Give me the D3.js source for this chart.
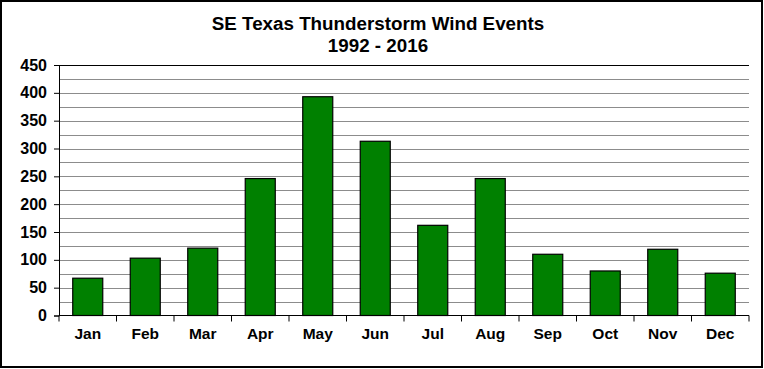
<!DOCTYPE html>
<html><head><meta charset="utf-8">
<script src="https://cdn.jsdelivr.net/npm/d3@7"></script>
<style>body{margin:0;background:#fff}svg{display:block;font-family:"Liberation Sans",Arial,sans-serif}</style>
</head><body><svg id="c" width="764" height="369"></svg>
<script>
const months = ["Jan","Feb","Mar","Apr","May","Jun","Jul","Aug","Sep","Oct","Nov","Dec"];
const events = [67,103,121,246,393,313,162,246,110,80,119,76];
const yTicks = [0,50,100,150,200,250,300,350,400,450];
const gridValues = d3.range(25,451,25);
const titleLines = ["SE Texas Thunderstorm Wind Events","1992 - 2016"];

const svg = d3.select("#c");
const m = {left:59, top:65, right:749, bottom:315.5};
svg.append("rect").attr("x",1).attr("y",1).attr("width",761).attr("height",366)
  .attr("fill","#fff").attr("stroke","#000").attr("stroke-width",2);

const x = d3.scaleBand().domain(months).range([m.left,m.right]).paddingInner(0.478).paddingOuter(0.239);
const y = d3.scaleLinear().domain([0,450]).range([m.bottom,m.top]);

svg.append("g").selectAll("line").data(gridValues).join("line")
  .attr("x1",m.left).attr("x2",m.right)
  .attr("y1",d=>Math.round(y(d))+0.5).attr("y2",d=>Math.round(y(d))+0.5)
  .attr("stroke",d=>d===450?"#000":"#8c8c8c").attr("stroke-width",1);

svg.append("g").selectAll("rect").data(events).join("rect")
  .attr("x",(d,i)=>x(months[i])).attr("width",x.bandwidth())
  .attr("y",d=>y(d)).attr("height",d=>m.bottom-y(d))
  .attr("fill","#008000").attr("stroke","#000").attr("stroke-width",1.2);

const yAxis = svg.append("g").attr("transform",`translate(${m.left},0)`)
  .call(d3.axisLeft(y).tickValues(yTicks).tickSize(5).tickPadding(7));
yAxis.selectAll("text").attr("font-size",16).attr("font-weight","bold").attr("fill","#000").attr("font-family","Liberation Sans, Arial, sans-serif");
yAxis.selectAll("line,path").attr("stroke","#000");

const bounds = d3.range(0,13).map(i=>m.left+i*(m.right-m.left)/12);
const xg = svg.append("g");
xg.append("line").attr("x1",m.left).attr("x2",m.right).attr("y1",m.bottom).attr("y2",m.bottom).attr("stroke","#000");
xg.selectAll("line.t").data(bounds).join("line").attr("class","t")
  .attr("x1",d=>d).attr("x2",d=>d).attr("y1",m.bottom).attr("y2",m.bottom+6).attr("stroke","#000");
xg.selectAll("text").data(months).join("text")
  .attr("x",d=>x(d)+x.bandwidth()/2).attr("y",339).attr("text-anchor","middle")
  .attr("font-size",15.5).attr("font-weight","bold").text(d=>d);

svg.selectAll("text.title").data(titleLines).join("text").attr("class","title")
  .attr("x",378).attr("y",(d,i)=>30+i*22).attr("text-anchor","middle")
  .attr("font-size",18.8).attr("font-weight","bold").text(d=>d);
</script></body></html>
